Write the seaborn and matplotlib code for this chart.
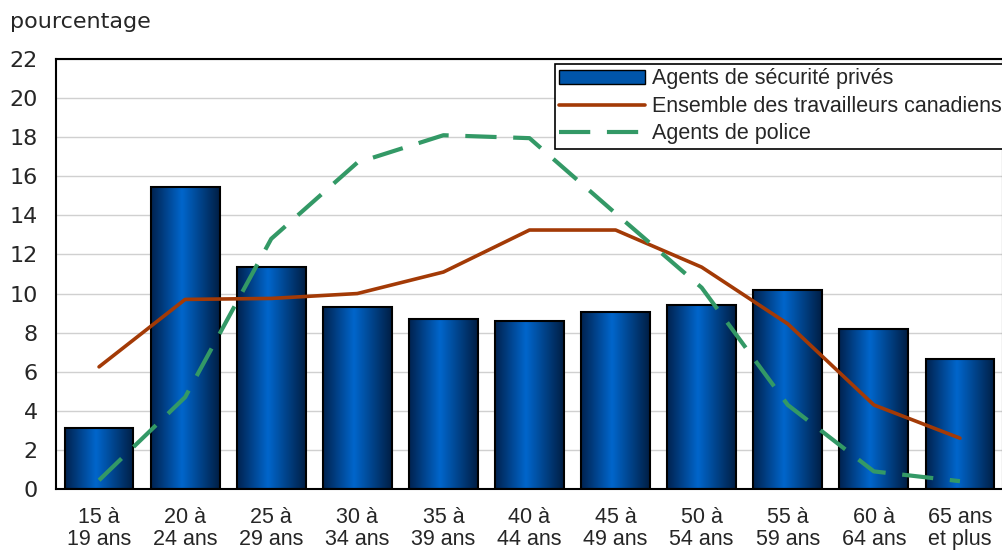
import numpy as np
import pandas as pd
import matplotlib
matplotlib.use("Agg")
import matplotlib.pyplot as plt
import seaborn as sns
from matplotlib.colors import LinearSegmentedColormap
from matplotlib.patches import Patch
from matplotlib.lines import Line2D

categories = ["15 à\n19 ans", "20 à\n24 ans", "25 à\n29 ans", "30 à\n34 ans", "35 à\n39 ans",
              "40 à\n44 ans", "45 à\n49 ans", "50 à\n54 ans", "55 à\n59 ans", "60 à\n64 ans",
              "65 ans\net plus"]
securite_prives = [3.1, 15.45, 11.35, 9.3, 8.7, 8.6, 9.05, 9.4, 10.2, 8.2, 6.65]
ensemble_travailleurs = [6.25, 9.7, 9.75, 10.0, 11.1, 13.25, 13.25, 11.35, 8.45, 4.3, 2.6]
agents_police = [0.45, 4.7, 12.8, 16.7, 18.1, 17.95, 14.1, 10.3, 4.3, 0.9, 0.4]
y_ticks = list(range(0, 23, 2))

df = pd.DataFrame({"cat": categories, "prives": securite_prives,
                   "ensemble": ensemble_travailleurs, "police": agents_police})

sns.set_style("white")
plt.rcParams["font.family"] = ["Liberation Sans", "DejaVu Sans"]

fig = plt.figure(figsize=(10.03, 5.52), dpi=100)
ax = fig.add_axes([56 / 1003, 63 / 552, 947 / 1003, 430 / 552])

sns.barplot(data=df, x="cat", y="prives", ax=ax, color="#0066cc", width=0.8,
            edgecolor="black", linewidth=1.5, zorder=2)

# gradient fill clipped to each bar
cmap = LinearSegmentedColormap.from_list(
    "barfill", [(0.0, "#00224f"), (0.45, "#0066cc"), (1.0, "#001e44")])
grad = np.linspace(0, 1, 256).reshape(1, -1)
for p in list(ax.patches):
    x0, y0 = p.get_x(), p.get_y()
    w, h = p.get_width(), p.get_height()
    im = ax.imshow(grad, cmap=cmap, aspect="auto", extent=[x0, x0 + w, y0, y0 + h],
                   zorder=2.1, interpolation="bicubic")
    im.set_clip_path(p)
    p.set_facecolor("none")
    p.set_zorder(2.2)

dash = (0, (7.5, 4))
sns.lineplot(data=df, x="cat", y="ensemble", ax=ax, color="#a33a06", linewidth=2.6,
             sort=False, zorder=3)
sns.lineplot(data=df, x="cat", y="police", ax=ax, color="#339966", linewidth=3.0,
             sort=False, zorder=3, linestyle=dash)

ax.set_xlim(-0.5, len(categories) - 0.5)
ax.set_ylim(0, 22)
ax.set_yticks(y_ticks)
ax.set_yticklabels([str(v) for v in y_ticks], family="DejaVu Sans", fontsize=16)
ax.yaxis.grid(True, color="#d0d0d0", linewidth=1.0, zorder=0)
ax.set_axisbelow(True)
ax.set_xlabel("")
ax.set_ylabel("")

ax.set_xticks(range(len(categories)))
ax.set_xticklabels(categories, fontsize=15.5, linespacing=1.05)
ax.set_xticks(np.arange(-0.5, len(categories), 1.0), minor=True)
ax.tick_params(axis="x", which="major", length=0, pad=13)
ax.tick_params(axis="x", which="minor", length=6, width=1.2, color="black")
ax.tick_params(axis="y", length=0, pad=13)

for s in ["left", "bottom", "top", "right"]:
    ax.spines[s].set_color("black")
    ax.spines[s].set_linewidth(1.5)

fig.text(10 / 1003, 1 - 22 / 552, "pourcentage", fontsize=16, family="DejaVu Sans",
         va="center", ha="left")

handles = [
    Patch(facecolor="#0055aa", edgecolor="black", linewidth=1.0),
    Line2D([0], [0], color="#a33a06", linewidth=2.6),
    Line2D([0], [0], color="#339966", linewidth=3.0, linestyle=dash),
]
labels = ["Agents de sécurité privés", "Ensemble des travailleurs canadiens", "Agents de police"]
leg = ax.legend(handles, labels, loc="upper left", bbox_to_anchor=(499 / 947, 1 - 5 / 430),
                fontsize=15.5, frameon=True, fancybox=False, framealpha=1,
                edgecolor="black", borderpad=0.2, labelspacing=0.3, handlelength=4.0,
                handletextpad=0.3, handleheight=0.6, borderaxespad=0)
leg.get_frame().set_linewidth(1.2)
leg.set_zorder(5)

fig.savefig("out.png", dpi=100)
